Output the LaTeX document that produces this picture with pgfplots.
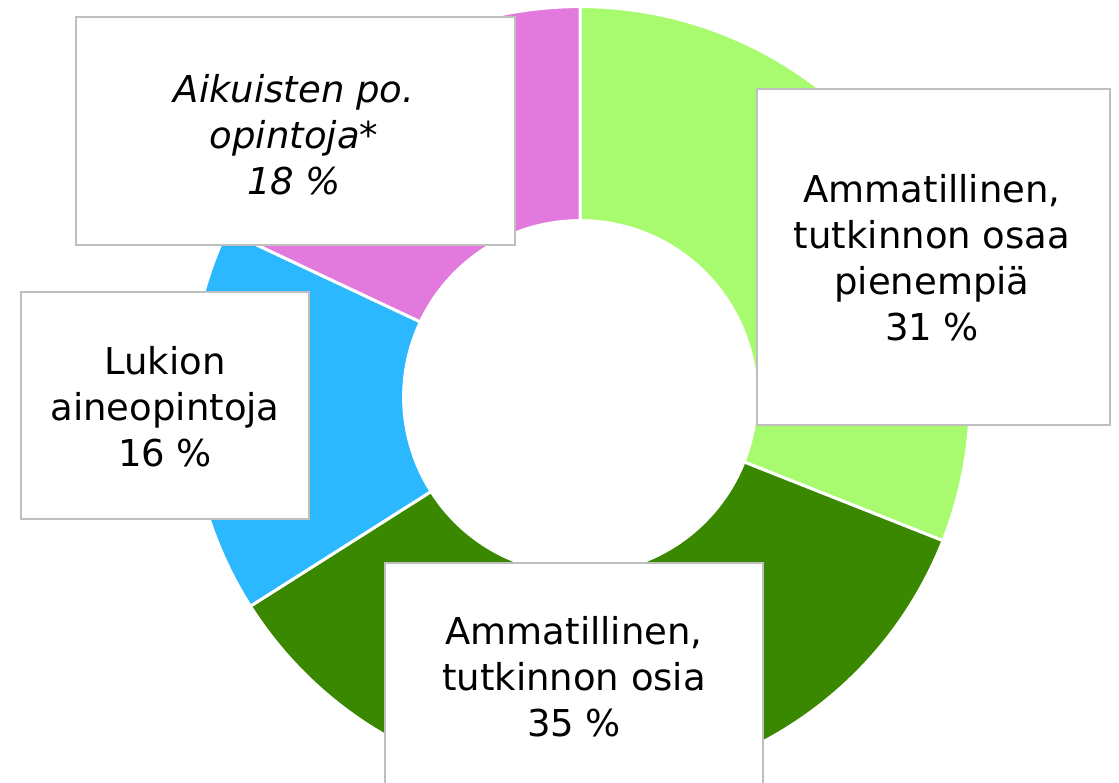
\documentclass[border=0pt]{standalone}
\usepackage{fontspec}
\setmainfont{DejaVu Sans}
\usepackage{pgfplots}
\pgfplotsset{compat=1.18}

\definecolor{lgreen}{HTML}{A8FA6E}
\definecolor{dgreen}{HTML}{3A8700}
\definecolor{lblue}{HTML}{2BB8FF}
\definecolor{pink}{HTML}{E279DC}
\definecolor{boxline}{HTML}{BFBFBF}

\begin{document}
\begin{tikzpicture}
\begin{axis}[
  x=0.5pt, y=0.5pt,
  xmin=0, xmax=1119, ymin=0, ymax=782,
  hide axis, clip=false,
]
\coordinate (ll) at (axis cs:0,0);
\coordinate (ur) at (axis cs:1119,782);
% donut slices, clockwise from the top (shares in percent)
\pgfplotsextra{
  \gdef\cum{0}
  \foreach \v/\c in {31/lgreen,35/dgreen,16/lblue,18/pink}{
    \pgfmathsetmacro\a{90-3.6*\cum}
    \pgfmathsetmacro\b{90-3.6*(\cum+\v)}
    \fill[\c, draw=white, line width=1.5pt]
      (axis cs:580,385) ++(\a:195.2pt)
      arc[start angle=\a, end angle=\b, radius=195.2pt]
      -- ++(\b:-107pt)
      arc[start angle=\b, end angle=\a, radius=88.2pt] -- cycle;
    \pgfmathsetmacro\n{\cum+\v}
    \xdef\cum{\n}
  }
}
% label boxes
\filldraw[fill=white, draw=boxline, line width=0.75pt] (axis cs:76,537) rectangle (axis cs:515,765);
\filldraw[fill=white, draw=boxline, line width=0.75pt] (axis cs:21,263) rectangle (axis cs:309,490);
\filldraw[fill=white, draw=boxline, line width=0.75pt] (axis cs:757,357) rectangle (axis cs:1110,693);
\fill[white] (axis cs:385,-10) rectangle (axis cs:763,219);
\draw[boxline, line width=0.75pt] (axis cs:385,-10) -- (axis cs:385,219) -- (axis cs:763,219) -- (axis cs:763,-10);

\tikzset{lbl/.style={align=center, inner sep=0pt, font=\fontsize{18.5}{23}\selectfont}}
\node[lbl, font=\fontsize{18.5}{23}\selectfont\itshape] at (axis cs:294,647) {Aikuisten po.\\opintoja*\\18 \%};
\node[lbl] at (axis cs:165,375) {Lukion\\aineopintoja\\16 \%};
\node[lbl] at (axis cs:932,524) {Ammatillinen,\\tutkinnon osaa\\pienempiä\\31 \%};
\node[lbl] at (axis cs:574,105) {Ammatillinen,\\tutkinnon osia\\35 \%};
\end{axis}
\pgfresetboundingbox
\path (ll) rectangle (ur);
\end{tikzpicture}
\end{document}
